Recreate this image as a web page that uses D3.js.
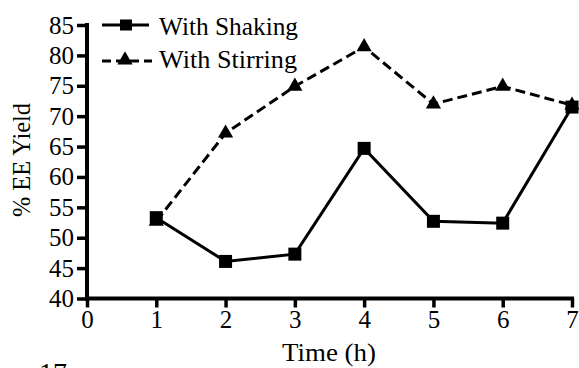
<!DOCTYPE html>
<html>
<head>
<meta charset="UTF-8">
<script src="https://d3js.org/d3.v7.min.js"></script>
<style>
  body { margin: 0; background: #fff; }
</style>
</head>
<body>
<div id="chart"></div>
<script>
const hours = [1, 2, 3, 4, 5, 6, 7];
const shaking = [53.3, 46.1, 47.3, 64.7, 52.7, 52.4, 71.5];
const stirring = [52.7, 67.2, 74.9, 81.4, 72.0, 74.9, 71.8];
const xTicks = [0, 1, 2, 3, 4, 5, 6, 7];
const yTicks = [40, 45, 50, 55, 60, 65, 70, 75, 80, 85];

const W = 579, H = 368;
const FONT = "Liberation Serif";
const svg = d3.select("#chart").append("svg").attr("width", W).attr("height", H);

const x = d3.scaleLinear().domain([0, 7]).range([87, 572]);
const y = d3.scaleLinear().domain([40, 85]).range([298.5, 25]);

// axes
const yAxis = svg.append("g").attr("transform", "translate(87,0)")
  .call(d3.axisLeft(y).tickValues(yTicks).tickFormat(d3.format("d")).tickSize(10).tickPadding(3));
const xAxis = svg.append("g").attr("transform", "translate(0,298.5)")
  .call(d3.axisBottom(x).tickValues(xTicks).tickFormat(d3.format("d")).tickSize(9).tickPadding(3));
[yAxis, xAxis].forEach(g => {
  g.attr("font-family", null).attr("font-size", null);
  g.select(".domain").attr("stroke-width", 4);
  g.selectAll(".tick line").attr("stroke-width", 3.5);
  g.selectAll(".tick text").attr("fill", "#000");
});
yAxis.select(".domain").attr("d", "M0,23V300.5");
xAxis.select(".domain").attr("d", "M85,0H574");

// axis titles
svg.append("text").attr("transform", "translate(30,160) rotate(-90)")
  .attr("text-anchor", "middle").attr("class", "ytitle")
  .attr("textLength", 114).attr("lengthAdjust", "spacingAndGlyphs").text("% EE Yield");
svg.append("text").attr("x", 329).attr("y", 361)
  .attr("text-anchor", "middle")
  .attr("textLength", 94).attr("lengthAdjust", "spacingAndGlyphs").text("Time (h)");
svg.append("text").attr("x", 39).attr("y", 382).attr("class", "big").text("17");

const line = d3.line().x((d, i) => x(hours[i])).y(d => y(d));

// series
svg.append("path").datum(stirring).attr("d", line)
  .attr("fill", "none").attr("stroke", "#000").attr("stroke-width", 3)
  .attr("stroke-dasharray", "10,5");
svg.append("path").datum(shaking).attr("d", line)
  .attr("fill", "none").attr("stroke", "#000").attr("stroke-width", 3);

const tri = d3.symbol().type(d3.symbolTriangle).size(100);
svg.selectAll(".tri").data(stirring).join("path")
  .attr("transform", (d, i) => `translate(${x(hours[i])},${y(d)})`)
  .attr("d", tri).attr("fill", "#000");
svg.selectAll(".sq").data(shaking).join("rect")
  .attr("x", (d, i) => x(hours[i]) - 6.5).attr("y", d => y(d) - 6.5)
  .attr("width", 13).attr("height", 13).attr("fill", "#000");

// legend
const leg = svg.append("g");
leg.append("line").attr("x1", 102).attr("x2", 149).attr("y1", 25).attr("y2", 25)
  .attr("stroke", "#000").attr("stroke-width", 3);
leg.append("rect").attr("x", 120).attr("y", 19.5).attr("width", 12).attr("height", 11);
leg.append("text").attr("x", 159).attr("y", 35)
  .attr("textLength", 139).attr("lengthAdjust", "spacingAndGlyphs").text("With Shaking");
leg.append("line").attr("x1", 102).attr("x2", 152).attr("y1", 61).attr("y2", 61)
  .attr("stroke", "#000").attr("stroke-width", 3).attr("stroke-dasharray", "9,5");
leg.append("path").attr("transform", "translate(125,60)").attr("d", tri);
leg.append("text").attr("x", 159).attr("y", 68)
  .attr("textLength", 138).attr("lengthAdjust", "spacingAndGlyphs").text("With Stirring");

// fonts: set directly on every text
svg.selectAll("text")
  .attr("font-family", FONT)
  .attr("font-size", function() {
    const c = d3.select(this).attr("class");
    return c === "big" ? 28 : 25;
  })
  .attr("fill", "#000");
</script>
</body>
</html>
